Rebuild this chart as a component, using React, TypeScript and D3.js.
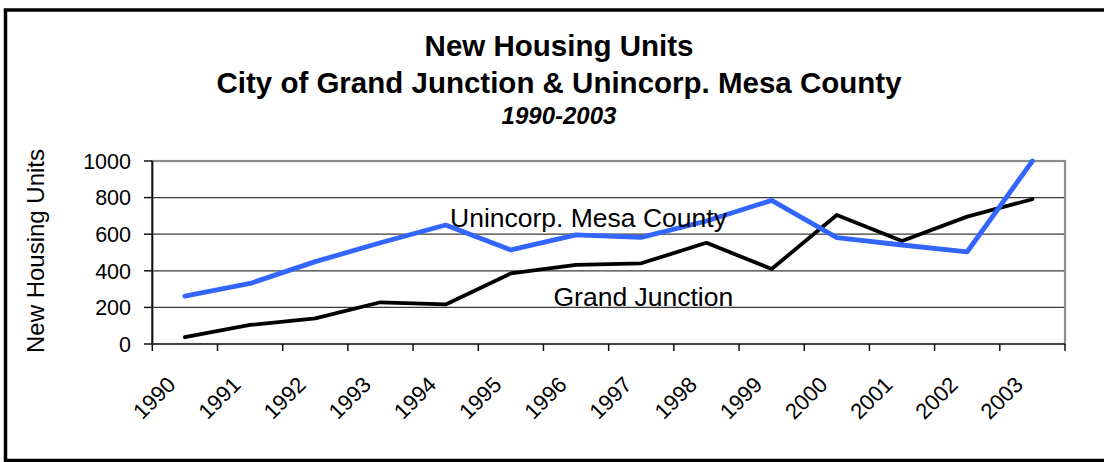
import React from "react";
import * as d3 from "d3";

const years = ["1990","1991","1992","1993","1994","1995","1996","1997","1998","1999","2000","2001","2002","2003"];
const mesaCounty = [262, 331, 450, 553, 650, 514, 596, 583, 672, 785, 581, 541, 504, 1000];
const grandJunction = [37, 104, 140, 228, 216, 386, 432, 441, 553, 410, 705, 563, 696, 791];
const yTicks = [0, 200, 400, 600, 800, 1000];
const titleLines = ["New Housing Units", "City of Grand Junction & Unincorp. Mesa County"];
const subtitle = "1990-2003";

const FONT = "Arial, 'Liberation Sans', sans-serif";

export default function App() {
  const W = 1104, H = 462;
  const left = 152.3, right = 1065, top = 161, bottom = 344;
  const x = d3.scaleBand<string>().domain(years).range([left, right]).padding(0);
  const y = d3.scaleLinear().domain([0, 1000]).range([bottom, top]);
  const cx = (yr: string) => (x(yr) as number) + x.bandwidth() / 2;
  const line = d3.line<number>().x((_, i) => cx(years[i])).y(d => y(d));
  const boundaries = years.map(yr => x(yr) as number).concat([right]);

  return (
    <svg width={W} height={H} style={{ position: "absolute", left: 0, top: 0, background: "#fff" }} fontFamily={FONT}>
      <rect x={0} y={0} width={W} height={H} fill="#fff" />
      <rect x={5.5} y={10} width={1130} height={450.5} fill="none" stroke="#000" strokeWidth={3.5} />

      <text x={559} y={56} textAnchor="middle" fontSize={29.5} fontWeight="bold">{titleLines[0]}</text>
      <text x={559} y={92.5} textAnchor="middle" fontSize={29.5} fontWeight="bold">{titleLines[1]}</text>
      <text x={559} y={124} textAnchor="middle" fontSize={24} fontWeight="bold" fontStyle="italic">{subtitle}</text>

      {yTicks.filter(t => t > 0 && t < 1000).map(t => (
        <line key={t} x1={left} x2={right} y1={y(t)} y2={y(t)} stroke="#3a3a3a" strokeWidth={1.3} />
      ))}
      <rect x={left} y={top} width={right - left} height={bottom - top} fill="none" stroke="#8c8c8c" strokeWidth={2.2} />
      <line x1={left} x2={left} y1={top} y2={bottom} stroke="#111" strokeWidth={1.8} />
      <line x1={left} x2={right} y1={bottom} y2={bottom} stroke="#444" strokeWidth={2} />
      {yTicks.map(t => (
        <g key={t}>
          <line x1={144} x2={left} y1={y(t)} y2={y(t)} stroke="#111" strokeWidth={1.5} />
          <text x={131} y={y(t)} dy="0.36em" textAnchor="end" fontSize={21.5}>{t}</text>
        </g>
      ))}
      {boundaries.map((b, i) => (
        <line key={i} x1={b} x2={b} y1={bottom} y2={bottom + 7} stroke="#111" strokeWidth={1.5} />
      ))}
      {years.map(yr => {
        const ax = cx(yr) - 8, ay = 386;
        return (
          <text key={yr} x={ax} y={ay} textAnchor="end" fontSize={22} transform={`rotate(-45 ${ax} ${ay})`}>{yr}</text>
        );
      })}
      <text transform={`translate(44 251) rotate(-90)`} textAnchor="middle" fontSize={24}>New Housing Units</text>

      <path d={line(grandJunction) || ""} fill="none" stroke="#000" strokeWidth={3.8} strokeLinejoin="round" strokeLinecap="round" />
      <path d={line(mesaCounty) || ""} fill="none" stroke="#3366FF" strokeWidth={4.8} strokeLinejoin="round" strokeLinecap="round" />

      <text x={450} y={227} fontSize={26.5}>Unincorp. Mesa County</text>
      <text x={553.5} y={306} fontSize={26.5}>Grand Junction</text>
    </svg>
  );
}
